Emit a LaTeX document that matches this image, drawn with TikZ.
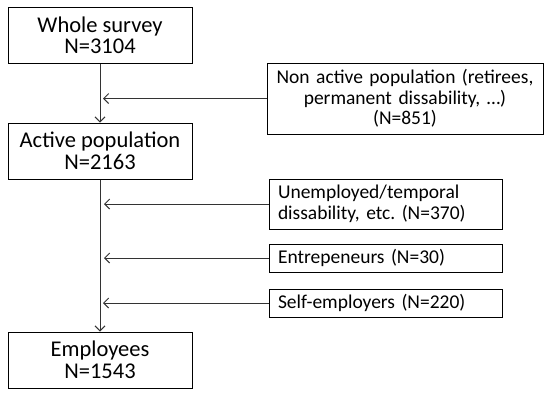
\documentclass[tikz,border=0pt]{standalone}
\usepackage{fontspec}
\setmainfont{Carlito}
\usetikzlibrary{positioning, arrows.meta}

\begin{document}
\frenchspacing
\begin{tikzpicture}[
    x=1pt, y=-1pt,
    line width=1pt,
    mainbox/.style={rectangle, draw, minimum width=184pt, minimum height=56pt, align=center, inner sep=0pt, font=\fontsize{22.5}{21.5}\selectfont},
    sidebox/.style={rectangle, draw, text width=215pt, inner xsep=9pt, inner ysep=0pt, align=left, font=\fontsize{19.5}{20.5}\selectfont},
    flow/.style={draw=black!80, -{Straight Barb[length=5pt, width=10pt]}}
]
\useasboundingbox (0,0) rectangle (550,394);

\node[mainbox] (whole) at (100,35.5) {Whole survey\\N=3104};
    \node[mainbox] (active) at (100,151) {Active population\\N=2163};
    \node[mainbox] (employees) at (100,360) {Employees\\N=1543};

\node[sidebox, text width=262pt, inner xsep=7pt, align=center, minimum height=71pt] (nonactive) at (405,98.5) {Non active population (retirees,\\permanent dissability, \dots)\\(N=851)};
    \node[sidebox, minimum height=50pt] (unemployed) at (385.5,204) {Unemployed/temporal\\dissability, etc. (N=370)};
    \node[sidebox, minimum height=28pt] (entre) at (385.5,258) {Entrepeneurs (N=30)};
    \node[sidebox, minimum height=28pt] (selfemp) at (385.5,303) {Self-employers (N=220)};

\coordinate (j1) at (nonactive.west -| whole.south);
    \coordinate (j2) at (unemployed.west -| active.south);
    \coordinate (j3) at (entre.west -| active.south);
    \coordinate (j4) at (selfemp.west -| active.south);

\draw[flow] (whole.south) -- (active.north);
    \draw[flow] (active.south) -- (employees.north);
    \draw[flow] (nonactive.west) -- ([xshift=3pt]j1);
    \draw[flow] (unemployed.west) -- ([xshift=4pt]j2);
    \draw[flow] (entre.west) -- ([xshift=4pt]j3);
    \draw[flow] (selfemp.west) -- ([xshift=3pt]j4);

\end{tikzpicture}
\end{document}
